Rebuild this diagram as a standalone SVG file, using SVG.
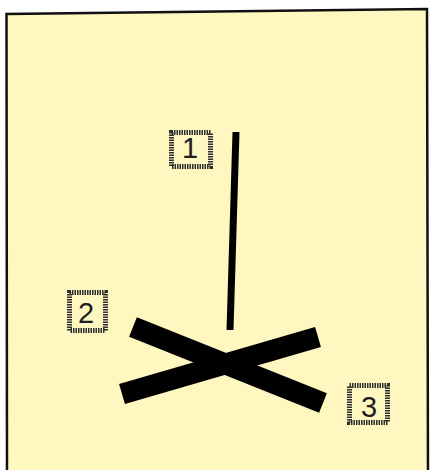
<svg xmlns="http://www.w3.org/2000/svg" width="430" height="470" viewBox="0 0 430 470">
<style>
.lbl{fill:none;stroke:#2e2e2e;stroke-width:5;stroke-dasharray:1.5 1}
.num{font-family:"Liberation Sans",Arial,sans-serif;font-size:29px;fill:#1e1e1e;text-anchor:middle}
.bar{stroke:#000;stroke-linecap:butt}
</style>
<rect width="430" height="470" fill="#fff"/>
<path d="M7,472 L6.5,14 L427,9 L428,472" fill="#fef7c0" stroke="#111" stroke-width="2.5"/>
<g id="connectors">
<line class="bar" x1="236" y1="132" x2="230" y2="330" stroke-width="7"/>
<line class="bar" x1="133" y1="327" x2="323" y2="403" stroke-width="21"/>
<line class="bar" x1="122" y1="394" x2="318" y2="337" stroke-width="21"/>
</g>
<g id="node1">
<rect class="lbl" x="171.5" y="132.5" width="39" height="34"/>
<text class="num" x="190" y="158">1</text>
</g>
<g id="node2">
<rect class="lbl" x="69.5" y="292.5" width="36" height="38"/>
<text class="num" x="86" y="323">2</text>
</g>
<g id="node3">
<rect class="lbl" x="349.5" y="385.5" width="38" height="37"/>
<text class="num" x="369" y="417">3</text>
</g>
</svg>
